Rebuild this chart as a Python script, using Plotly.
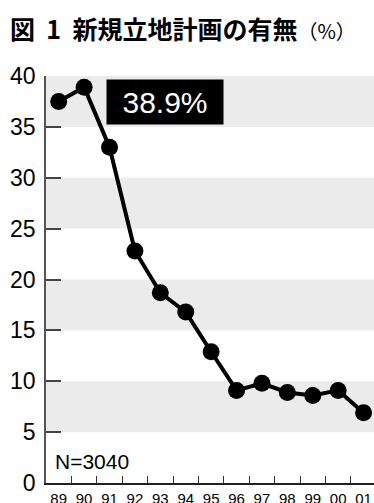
import plotly.graph_objects as go

# Survey results: share of firms with new plant-location plans (%)
years = ["89", "90", "91", "92", "93", "94", "95", "96", "97", "98", "99", "00", "01"]
share = [37.5, 38.9, 33.0, 22.8, 18.7, 16.8, 12.9, 9.1, 9.8, 8.9, 8.6, 9.1, 6.9]
y_ticks = [0, 5, 10, 15, 20, 25, 30, 35, 40]
bands = [(5, 10), (15, 20), (25, 30), (35, 40)]
peak_label = "38.9%"
sample_note = "N=3040"

W, H = 374, 503
L, T, B = 46, 76, 20

fig = go.Figure()

fig.add_trace(go.Scatter(
    x=years, y=share, mode="lines+markers",
    line=dict(color="black", width=4),
    marker=dict(color="black", size=17),
    cliponaxis=False, hoverinfo="skip", showlegend=False,
))

# shaded horizontal bands behind the data
for lo, hi in bands:
    fig.add_shape(type="rect", xref="paper", yref="y", x0=0, x1=1, y0=lo, y1=hi,
                  fillcolor="#ebebeb", line=dict(width=0), layer="below")

font_num = "Liberation Sans, Arial, sans-serif"

fig.update_xaxes(
    type="category", range=[-0.5, 12.41], automargin=False,
    tickson="boundaries", ticks="inside", ticklen=7, tickwidth=1, tickcolor="#333",
    showline=True, linecolor="#222", linewidth=1.5,
    showgrid=False, zeroline=False, tickangle=0,
    tickfont=dict(family=font_num, size=15, color="black"),
    ticklabelstandoff=1,
)
fig.update_yaxes(
    range=[0, 40], tickvals=y_ticks, automargin=False,
    ticks="inside", ticklen=15, tickwidth=1.5, tickcolor="#444",
    showline=True, linecolor="#555", linewidth=1.5,
    showgrid=False, zeroline=False,
    tickfont=dict(family=font_num, size=23, color="black"),
    ticklabelstandoff=4,
)

fig.add_annotation(
    xref="paper", yref="paper", x=(165 - L) / (W - L), y=(H - B - 79) / (H - B - T),
    text=peak_label, showarrow=False, bgcolor="black", width=114, height=42,
    font=dict(family=font_num, size=30, color="white"),
)
fig.add_annotation(
    xref="paper", yref="paper", x=(53 - L) / (W - L), y=(H - B - 461) / (H - B - T),
    xanchor="left", yanchor="middle", text=sample_note, showarrow=False,
    font=dict(family=font_num, size=21, color="black"),
)
fig.add_annotation(
    xref="paper", yref="paper", x=-(L - 8) / (W - L), y=1 + (T - 28) / (H - B - T),
    xanchor="left", yanchor="middle", showarrow=False,
    text="<b>図&nbsp;&nbsp;1&nbsp;&nbsp;新規立地計画の有無</b><span style='font-size:20px'>（%）</span>",
    font=dict(family="Noto Sans CJK JP, sans-serif", size=25, color="black"),
)

fig.update_layout(
    width=W, height=H,
    margin=dict(l=L, r=0, t=T, b=B),
    paper_bgcolor="white", plot_bgcolor="white",
)

fig.write_html("out.html")
